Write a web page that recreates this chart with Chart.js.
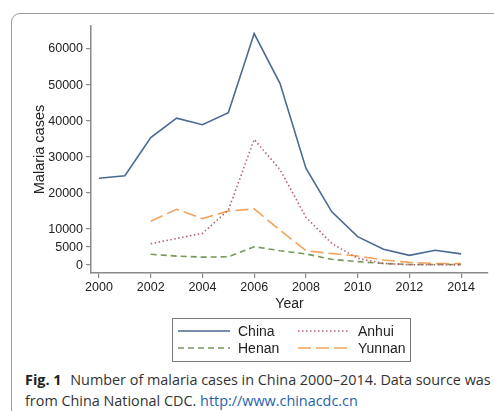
<!DOCTYPE html>
<html>
<head>
<meta charset="utf-8">
<script src="https://cdn.jsdelivr.net/npm/chart.js@4"></script>
<style>
    html, body { margin: 0; padding: 0; background: #fff; overflow: hidden; }
    body { width: 494px; height: 411px; position: relative; }
    .panel {
        position: absolute; left: 11px; top: 13px; width: 520px; height: 420px;
        border: 1px solid #9a9a9a; border-radius: 9px; box-sizing: border-box;
    }
    #chart-wrap { position: absolute; left: 0; top: 0; width: 494px; height: 366px; }
    .caption {
        position: absolute; left: 25px; top: 369px; width: 500px;
        font-family: "Open Sans", "Noto Sans", sans-serif; font-size: 14.4px;
        line-height: 21px; color: #333; white-space: nowrap;
    }
    .caption b { color: #222; margin-right: 5px; }
    .caption a { color: #1f5fb0; text-decoration: none; }
</style>
</head>
<body>
<div class="panel"></div>
<div id="chart-wrap"><canvas id="malaria"></canvas></div>
<div class="caption">
    <b>Fig. 1</b> Number of malaria cases in China 2000–2014. Data source was<br>
    from China National CDC. <a href="#">http://www.chinacdc.cn</a>
</div>
<script>
// Annual malaria cases, 2000–2014
var years  = [2000, 2001, 2002, 2003, 2004, 2005, 2006, 2007, 2008, 2009, 2010, 2011, 2012, 2013, 2014];
var china  = [24100, 24800, 35400, 40800, 39000, 42300, 64300, 50400, 26900, 14800, 7900, 4400, 2700, 4100, 3100];
var anhui  = [null, null, 5900, 7400, 8800, 15300, 34900, 26500, 13300, 6000, 1900, 450, 100, 80, 50];
var henan  = [null, null, 3000, 2500, 2200, 2300, 5100, 4000, 3100, 1600, 950, 450, 180, 150, 150];
var yunnan = [null, null, 12200, 15500, 12900, 15000, 15600, 9700, 4000, 3200, 2500, 1400, 750, 450, 450];

var yTicks = [0, 5000, 10000, 20000, 30000, 40000, 50000, 60000];
var xTicks = [2000, 2002, 2004, 2006, 2008, 2010, 2012, 2014];

function pts(vals) {
    return years.map(function (y, i) { return { x: y, y: vals[i] }; });
}

var series = [
    { label: 'China',  data: pts(china),  borderColor: '#4a6a92', borderDash: [] },
    { label: 'Anhui',  data: pts(anhui),  borderColor: '#b2636d', borderDash: [1.5, 2.5] },
    { label: 'Henan',  data: pts(henan),  borderColor: '#76995a', borderDash: [6, 4] },
    { label: 'Yunnan', data: pts(yunnan), borderColor: '#f3a35c', borderDash: [13, 5] }
];
series.forEach(function (s) {
    s.borderWidth = 1.6;
    s.pointRadius = 0;
    s.tension = 0;
    s.fill = false;
});

var font = 'Liberation Sans, Arial, sans-serif';

// Two-column boxed legend under the x-axis title
var boxLegend = {
    id: 'boxLegend',
    afterDraw: function (chart) {
        var ctx = chart.ctx;
        var left = 172.5, top = 318.5, w = 238, h = 43;
        ctx.save();
        ctx.strokeStyle = '#7a7a7a';
        ctx.lineWidth = 1;
        ctx.setLineDash([]);
        ctx.strokeRect(left, top, w, h);
        var cols = [178, 298];
        var rows = [331, 348];
        ctx.font = '14px ' + font;
        ctx.textBaseline = 'middle';
        chart.data.datasets.forEach(function (ds, i) {
            var cx = cols[i % 2], cy = rows[Math.floor(i / 2)];
            ctx.strokeStyle = ds.borderColor;
            ctx.lineWidth = ds.borderWidth;
            ctx.setLineDash(ds.borderDash);
            ctx.beginPath();
            ctx.moveTo(cx, cy);
            ctx.lineTo(cx + 52, cy);
            ctx.stroke();
            ctx.setLineDash([]);
            ctx.fillStyle = '#222';
            ctx.fillText(ds.label, cx + 60, cy + 1);
        });
        ctx.restore();
    }
};

new Chart(document.getElementById('malaria'), {
    type: 'line',
    data: { datasets: series },
    plugins: [boxLegend],
    options: {
        responsive: true,
        maintainAspectRatio: false,
        animation: false,
        layout: { padding: { top: 26, right: 6, left: 31, bottom: 53 } },
        plugins: {
            legend: { display: false },
            tooltip: { enabled: false }
        },
        scales: {
            x: {
                type: 'linear',
                min: 1999.69,
                max: 2015.04,
                afterBuildTicks: function (axis) {
                    axis.ticks = xTicks.map(function (v) { return { value: v }; });
                },
                afterFit: function (axis) { axis.height = 40; },
                ticks: {
                    color: '#222',
                    font: { family: font, size: 12.5 },
                    padding: 2,
                    maxRotation: 0,
                    callback: function (v) { return String(v); }
                },
                grid: { drawOnChartArea: false, drawTicks: true, tickLength: 5, color: '#8a8a8a', lineWidth: 1.2 },
                border: { color: '#8a8a8a', width: 1.5 },
                title: {
                    display: true,
                    text: 'Year',
                    color: '#222',
                    font: { family: font, size: 14 },
                    padding: { top: 1, bottom: 0 }
                }
            },
            y: {
                min: -2200,
                max: 66400,
                afterBuildTicks: function (axis) {
                    axis.ticks = yTicks.map(function (v) { return { value: v }; });
                },
                afterFit: function (axis) { axis.width = 60; },
                ticks: {
                    color: '#222',
                    font: { family: font, size: 12.5 },
                    padding: 3,
                    callback: function (v) { return String(v); }
                },
                grid: { drawOnChartArea: false, drawTicks: true, tickLength: 5, color: '#8a8a8a', lineWidth: 1.2 },
                border: { color: '#8a8a8a', width: 1.5 },
                title: {
                    display: true,
                    text: 'Malaria cases',
                    color: '#222',
                    font: { family: font, size: 14.5 },
                    padding: { top: 0, bottom: 6 }
                }
            }
        }
    }
});
</script>
</body>
</html>
